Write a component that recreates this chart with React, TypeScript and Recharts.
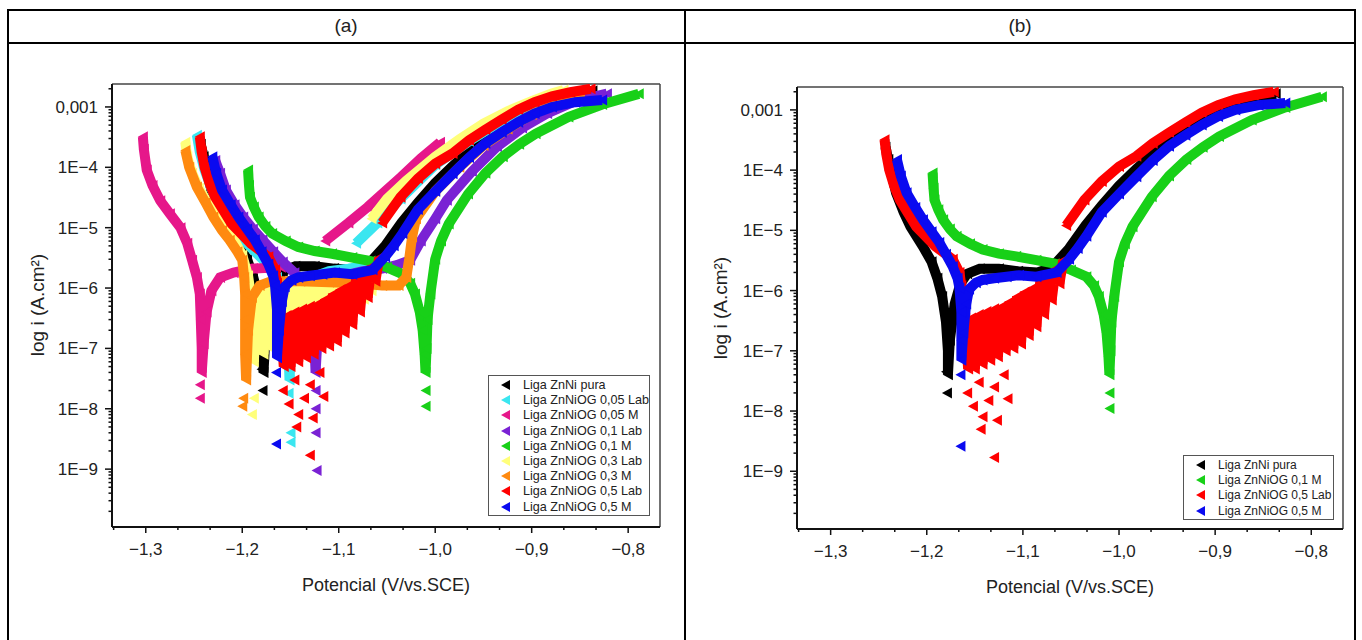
import React from "react";
import { ScatterChart, Scatter, XAxis, YAxis, ReferenceLine } from "recharts";

type Pt = [number, number];

// potential (V vs SCE), current density (A/cm²)
const blackMain: Pt[] = [
  [-1.243, 2.4e-4], [-1.24, 1.5e-4], [-1.236, 8e-5], [-1.232, 4.2e-5], [-1.224, 2e-5],
  [-1.217, 1.15e-5], [-1.204, 5.4e-6], [-1.195, 3e-6], [-1.189, 1.6e-6], [-1.184, 8e-7],
  [-1.18, 3e-7], [-1.178, 1e-7], [-1.178, 4e-8], [-1.176, 1.5e-7], [-1.171, 6e-7],
  [-1.165, 1.3e-6], [-1.158, 1.9e-6], [-1.145, 2.3e-6], [-1.125, 2.3e-6], [-1.105, 2.1e-6],
  [-1.085, 2e-6], [-1.07, 2.4e-6], [-1.052, 5e-6], [-1.035, 1.2e-5], [-1.018, 2.6e-5],
  [-1.0, 5.5e-5], [-0.982, 1.05e-4], [-0.948, 3.2e-4], [-0.914, 7e-4], [-0.879, 1.25e-3],
  [-0.855, 1.6e-3], [-0.837, 1.85e-3],
];
const blackTail: Pt[] = [[-1.179, 2e-8], [-1.18, 4.5e-8]];

const cyanMain: Pt[] = [
  [-1.247, 3.4e-4], [-1.244, 1.8e-4], [-1.239, 9e-5], [-1.232, 4.5e-5], [-1.222, 2e-5],
  [-1.208, 9e-6], [-1.19, 4.5e-6], [-1.175, 2.6e-6], [-1.164, 1.5e-6], [-1.157, 7e-7],
  [-1.153, 2.5e-7], [-1.152, 8e-8], [-1.151, 3e-8], [-1.149, 1.5e-7], [-1.146, 4e-7],
  [-1.14, 9e-7], [-1.128, 1.5e-6], [-1.11, 1.9e-6], [-1.09, 2.1e-6], [-1.075, 2.3e-6],
];
const cyanAnodic: Pt[] = [
  [-1.082, 5.5e-6], [-1.06, 1.2e-5], [-1.036, 3e-5], [-1.0, 1.1e-4], [-0.965, 2.7e-4],
  [-0.931, 5.8e-4], [-0.897, 1.1e-3], [-0.86, 1.65e-3], [-0.845, 1.8e-3],
];
const cyanTail: Pt[] = [[-1.152, 1.8e-8], [-1.15, 4e-9], [-1.15, 2.8e-9]];

const magentaMain: Pt[] = [
  [-1.303, 3.2e-4], [-1.302, 2e-4], [-1.299, 9e-5], [-1.293, 5e-5], [-1.285, 2.8e-5],
  [-1.275, 1.7e-5], [-1.264, 1e-5], [-1.257, 5.5e-6], [-1.252, 2.9e-6], [-1.247, 1.5e-6],
  [-1.244, 8e-7], [-1.243, 3e-7], [-1.242, 1e-7], [-1.242, 4e-8], [-1.24, 1.2e-7],
  [-1.237, 4e-7], [-1.232, 9e-7], [-1.223, 1.5e-6], [-1.209, 1.8e-6], [-1.189, 2.1e-6],
  [-1.16, 2.2e-6],
];
const magentaAnodic: Pt[] = [
  [-1.114, 6e-6], [-1.09, 1.2e-5], [-1.07, 2.2e-5], [-1.057, 3.4e-5], [-1.035, 7e-5],
  [-1.015, 1.4e-4], [-0.995, 2.6e-4],
];
const magentaTail: Pt[] = [[-1.244, 2.5e-8], [-1.244, 1.5e-8]];

const violetMain: Pt[] = [
  [-1.228, 1.3e-4], [-1.223, 8e-5], [-1.217, 4.2e-5], [-1.208, 2.4e-5], [-1.199, 1.5e-5],
  [-1.189, 9.5e-6], [-1.179, 6.3e-6], [-1.168, 4e-6], [-1.158, 2.7e-6], [-1.146, 1.8e-6],
  [-1.136, 9e-7], [-1.129, 3.5e-7], [-1.125, 1e-7], [-1.124, 4e-8], [-1.122, 1.5e-7],
  [-1.118, 5e-7], [-1.11, 1.1e-6], [-1.095, 1.6e-6], [-1.075, 1.9e-6], [-1.055, 2.1e-6],
  [-1.04, 2.4e-6], [-1.026, 2.9e-6], [-1.015, 6e-6], [-1.0, 1.4e-5], [-0.988, 2.85e-5],
  [-0.962, 8.5e-5], [-0.936, 2.2e-4], [-0.91, 4.5e-4], [-0.884, 7.8e-4], [-0.855, 1.25e-3],
  [-0.822, 1.66e-3],
];
const violetTail: Pt[] = [[-1.124, 2e-8], [-1.124, 1e-8], [-1.124, 4e-9], [-1.123, 9.5e-10]];

const greenMain: Pt[] = [
  [-1.194, 9e-5], [-1.193, 5e-5], [-1.192, 3.2e-5], [-1.188, 2.2e-5], [-1.183, 1.5e-5],
  [-1.176, 1.05e-5], [-1.169, 8e-6], [-1.155, 6e-6], [-1.142, 4.8e-6], [-1.125, 4.1e-6],
  [-1.107, 3.7e-6], [-1.086, 3.2e-6], [-1.067, 2.8e-6], [-1.05, 2.2e-6], [-1.034, 1.7e-6],
  [-1.026, 1.2e-6], [-1.021, 8e-7], [-1.016, 4e-7], [-1.013, 2e-7], [-1.011, 8e-8],
  [-1.01, 4e-8], [-1.009, 1e-7], [-1.008, 3e-7], [-1.005, 8e-7], [-1.0, 3e-6],
  [-0.994, 6e-6], [-0.986, 1.15e-5], [-0.966, 3.6e-5], [-0.948, 8e-5], [-0.93, 1.5e-4],
  [-0.913, 2.4e-4], [-0.896, 3.6e-4], [-0.862, 6.8e-4], [-0.827, 1.1e-3], [-0.789, 1.65e-3],
];
const greenTail: Pt[] = [[-1.01, 2e-8], [-1.01, 1.1e-8]];

const yellowMain: Pt[] = [
  [-1.259, 2.6e-4], [-1.257, 1.5e-4], [-1.252, 8e-5], [-1.245, 4.5e-5], [-1.236, 2.6e-5],
  [-1.224, 1.4e-5], [-1.21, 7e-6], [-1.2, 3.5e-6], [-1.194, 1.6e-6], [-1.19, 6e-7],
  [-1.189, 2e-7], [-1.188, 6e-8], [-1.186, 2.5e-7], [-1.182, 9e-7], [-1.178, 8e-8],
  [-1.174, 9e-7], [-1.17, 1e-7], [-1.166, 1e-6], [-1.162, 1.2e-7], [-1.158, 1e-6],
  [-1.154, 1.4e-7], [-1.15, 1e-6], [-1.146, 1.6e-7], [-1.142, 1.05e-6], [-1.138, 1.8e-7],
  [-1.134, 1.05e-6], [-1.13, 2e-7], [-1.126, 1.1e-6], [-1.122, 2.3e-7], [-1.118, 1.1e-6],
  [-1.114, 2.6e-7], [-1.11, 1.1e-6], [-1.106, 3e-7], [-1.102, 1.15e-6], [-1.098, 3.4e-7],
  [-1.094, 1.2e-6], [-1.09, 4e-7], [-1.086, 1.3e-6], [-1.082, 5e-7], [-1.078, 1.4e-6],
  [-1.074, 6.5e-7], [-1.07, 1.6e-6], [-1.066, 9e-7], [-1.062, 1.9e-6],
];
const yellowAnodic: Pt[] = [
  [-1.066, 1.4e-5], [-1.05, 3e-5], [-1.03, 6e-5], [-1.0, 1.5e-4], [-0.975, 2.9e-4],
  [-0.95, 5.3e-4], [-0.925, 8.5e-4], [-0.9, 1.25e-3], [-0.88, 1.65e-3], [-0.867, 1.9e-3],
];
const yellowTail: Pt[] = [[-1.188, 1.5e-8], [-1.19, 8e-9]];

const orangeMain: Pt[] = [
  [-1.259, 1.9e-4], [-1.255, 1e-4], [-1.247, 4.7e-5], [-1.238, 2.6e-5], [-1.23, 1.5e-5],
  [-1.221, 9e-6], [-1.213, 6.2e-6], [-1.205, 4e-6], [-1.2, 2.9e-6], [-1.198, 1.5e-6],
  [-1.197, 8e-7], [-1.197, 3e-7], [-1.197, 8e-8], [-1.196, 3e-8], [-1.194, 2e-7],
  [-1.19, 7e-7], [-1.182, 1.1e-6], [-1.17, 1.3e-6], [-1.14, 1.3e-6], [-1.11, 1.25e-6],
  [-1.08, 1.2e-6], [-1.055, 1.1e-6], [-1.038, 1.1e-6], [-1.03, 1.5e-6], [-1.027, 3e-6],
  [-1.024, 7e-6], [-1.02, 1.4e-5], [-1.0, 4e-5], [-0.975, 1e-4], [-0.95, 2.3e-4],
  [-0.925, 4.3e-4], [-0.9, 7.5e-4], [-0.875, 1.1e-3], [-0.85, 1.5e-3],
];
const orangeTail: Pt[] = [[-1.199, 1.5e-8], [-1.2, 1.1e-8]];

const redMain: Pt[] = [
  [-1.244, 3.2e-4], [-1.242, 1.8e-4], [-1.239, 1e-4], [-1.234, 5.5e-5], [-1.228, 3.2e-5],
  [-1.211, 1.15e-5], [-1.191, 5.4e-6], [-1.173, 3.3e-6], [-1.166, 2e-6], [-1.164, 1.2e-6],
  [-1.163, 6e-7], [-1.162, 1.5e-7], [-1.16, 3.5e-7], [-1.157, 5e-8], [-1.154, 3.5e-7],
  [-1.15, 5e-8], [-1.146, 4e-7], [-1.142, 6e-8], [-1.138, 4.5e-7], [-1.134, 7e-8],
  [-1.13, 5e-7], [-1.126, 8e-8], [-1.122, 5.5e-7], [-1.118, 1e-7], [-1.114, 6.5e-7],
  [-1.11, 1.1e-7], [-1.106, 8e-7], [-1.102, 1.3e-7], [-1.098, 9.5e-7], [-1.094, 1.8e-7],
  [-1.09, 1.1e-6], [-1.086, 2.5e-7], [-1.082, 1.4e-6], [-1.078, 4e-7], [-1.074, 1.8e-6],
  [-1.07, 7e-7], [-1.066, 2.3e-6], [-1.062, 1.3e-6], [-1.058, 3.2e-6],
];
const redAnodic: Pt[] = [
  [-1.055, 1.2e-5], [-1.036, 3.2e-5], [-1.018, 6.5e-5], [-1.0, 1.15e-4], [-0.982, 1.7e-4],
  [-0.965, 2.8e-4], [-0.948, 4.2e-4], [-0.931, 6.2e-4], [-0.914, 9e-4], [-0.897, 1.2e-3],
  [-0.879, 1.5e-3], [-0.86, 1.75e-3], [-0.839, 2e-3],
];
const redTail: Pt[] = [
  [-1.158, 2e-8], [-1.152, 1.2e-8], [-1.146, 3e-8], [-1.142, 8e-9], [-1.136, 1.5e-8],
  [-1.13, 2.5e-8], [-1.127, 7e-9], [-1.12, 4e-8], [-1.116, 1.6e-8], [-1.144, 5e-9],
  [-1.13, 1.7e-9],
];

const blueMain: Pt[] = [
  [-1.231, 1.5e-4], [-1.227, 8e-5], [-1.221, 4.2e-5], [-1.212, 2.4e-5], [-1.204, 1.5e-5],
  [-1.195, 9.5e-6], [-1.187, 6.3e-6], [-1.18, 4e-6], [-1.173, 2.5e-6], [-1.168, 1.6e-6],
  [-1.166, 1.1e-6], [-1.164, 4.4e-7], [-1.164, 1.5e-7], [-1.164, 7e-8], [-1.162, 2e-7],
  [-1.159, 6e-7], [-1.156, 1.05e-6], [-1.149, 1.35e-6], [-1.142, 1.5e-6], [-1.13, 1.6e-6],
  [-1.117, 1.7e-6], [-1.104, 1.8e-6], [-1.086, 1.7e-6], [-1.065, 2e-6], [-1.052, 3.3e-6],
  [-1.043, 5e-6], [-1.034, 8e-6], [-1.018, 2e-5], [-1.0, 4e-5], [-0.982, 7.8e-5],
  [-0.965, 1.45e-4], [-0.948, 2.5e-4], [-0.931, 3.8e-4], [-0.914, 5.6e-4], [-0.897, 7.8e-4],
  [-0.879, 1e-3], [-0.855, 1.2e-3], [-0.827, 1.3e-3],
];
const blueTail: Pt[] = [[-1.165, 4e-8], [-1.165, 2.6e-9]];

const X_DOMAIN: [number, number] = [-1.335, -0.767];
const X_MAJOR = [-1.3, -1.2, -1.1, -1.0, -0.9, -0.8];
const X_LABELS = ["−1,3", "−1,2", "−1,1", "−1,0", "−0,9", "−0,8"];
const X_MINOR = [
  -1.3333, -1.2667, -1.2333, -1.1667, -1.1333, -1.0667, -1.0333,
  -0.9667, -0.9333, -0.8667, -0.8333,
];

const Y_DOMAIN: [number, number] = [1.1e-10, 2.4e-3];
const Y_MAJOR = [1e-9, 1e-8, 1e-7, 1e-6, 1e-5, 1e-4, 1e-3];
const Y_LABELS = ["1E−9", "1E−8", "1E−7", "1E−6", "1E−5", "1E−4", "0,001"];
const Y_MINOR: number[] = [];
[1e-10, 1e-9, 1e-8, 1e-7, 1e-6, 1e-5, 1e-4, 1e-3].forEach((d) => {
  [2, 3, 4, 5, 6, 7, 8, 9].forEach((m) => {
    const v = m * d;
    if (v > Y_DOMAIN[0] && v < Y_DOMAIN[1]) Y_MINOR.push(v);
  });
});

interface SeriesDef {
  name: string;
  color: string;
  parts: Pt[][];
  tail: Pt[];
}

const ZNNI: SeriesDef = { name: "Liga ZnNi pura", color: "#000000", parts: [blackMain], tail: blackTail };
const OG005LAB: SeriesDef = { name: "Liga ZnNiOG 0,05 Lab", color: "#3ae6f0", parts: [cyanMain, cyanAnodic], tail: cyanTail };
const OG005M: SeriesDef = { name: "Liga ZnNiOG 0,05 M", color: "#e6178a", parts: [magentaMain, magentaAnodic], tail: magentaTail };
const OG01LAB: SeriesDef = { name: "Liga ZnNiOG 0,1 Lab", color: "#7a22d4", parts: [violetMain], tail: violetTail };
const OG01M: SeriesDef = { name: "Liga ZnNiOG 0,1 M", color: "#18d018", parts: [greenMain], tail: greenTail };
const OG03LAB: SeriesDef = { name: "Liga ZnNiOG 0,3 Lab", color: "#ffff7a", parts: [yellowMain, yellowAnodic], tail: yellowTail };
const OG03M: SeriesDef = { name: "Liga ZnNiOG 0,3 M", color: "#ff8a10", parts: [orangeMain], tail: orangeTail };
const OG05LAB: SeriesDef = { name: "Liga ZnNiOG 0,5 Lab", color: "#ff0000", parts: [redMain, redAnodic], tail: redTail };
const OG05M: SeriesDef = { name: "Liga ZnNiOG 0,5 M", color: "#0a0af0", parts: [blueMain], tail: blueTail };

const SERIES_A = [ZNNI, OG005LAB, OG005M, OG01LAB, OG01M, OG03LAB, OG03M, OG05LAB, OG05M];
const SERIES_B = [ZNNI, OG01M, OG05LAB, OG05M];

const FONT = "'Liberation Sans', Arial, sans-serif";
const INK = "#222";

const toPts = (arr: Pt[]) => arr.map(([E, i]) => ({ E, i }));

const LeftTriangle = (props: any) => {
  const { cx, cy, fill } = props;
  if (cx == null || cy == null) return null;
  return <polygon points={`${cx - 5},${cy} ${cx + 5},${cy - 5.5} ${cx + 5},${cy + 5.5}`} fill={fill} />;
};

const XTick = (props: any) => {
  const { x, y, payload } = props;
  const idx = X_MAJOR.findIndex((v) => Math.abs(v - payload.value) < 1e-6);
  const major = idx >= 0;
  return (
    <g>
      <line x1={x} y1={y} x2={x} y2={y + (major ? 6 : 3)} stroke="#111" strokeWidth={1.5} />
      {major && (
        <text x={x} y={y + 28} textAnchor="middle" fontFamily={FONT} fontSize={17} fill={INK}>
          {X_LABELS[idx]}
        </text>
      )}
    </g>
  );
};

const YTick = (props: any) => {
  const { x, y, payload } = props;
  const idx = Y_MAJOR.findIndex((v) => Math.abs(Math.log10(v) - Math.log10(payload.value)) < 1e-6);
  const major = idx >= 0;
  return (
    <g>
      <line x1={x - (major ? 7 : 3.5)} y1={y} x2={x} y2={y} stroke="#111" strokeWidth={1.5} />
      {major && (
        <text x={x - 14} y={y + 6} textAnchor="end" fontFamily={FONT} fontSize={17} fill={INK}>
          {Y_LABELS[idx]}
        </text>
      )}
    </g>
  );
};

function Legend({
  series,
  style,
  fontSize,
}: {
  series: SeriesDef[];
  style: React.CSSProperties;
  fontSize: string;
}) {
  return (
    <div
      style={{
        position: "absolute",
        border: "1px solid #555",
        background: "#fff",
        boxSizing: "border-box",
        paddingTop: 1.5,
        fontFamily: FONT,
        fontSize,
        color: INK,
        ...style,
      }}
    >
      {series.map((s) => (
        <div key={s.name} style={{ display: "flex", alignItems: "center", height: "15.2px", whiteSpace: "nowrap" }}>
          <svg width={30} height={12} style={{ flex: "none" }}>
            <polygon points="12,6 21,1 21,11" fill={s.color} />
          </svg>
          <span style={{ marginLeft: 4 }}>{s.name}</span>
        </div>
      ))}
    </div>
  );
}

function PolarizationChart({
  series,
  width,
  top,
  bottom,
}: {
  series: SeriesDef[];
  width: number;
  top: number;
  bottom: number;
}) {
  return (
    <ScatterChart width={width} height={600} margin={{ top, right: 20, bottom, left: 52 }}>
      <XAxis
        type="number"
        dataKey="E"
        domain={X_DOMAIN}
        allowDataOverflow
        ticks={[...X_MAJOR, ...X_MINOR]}
        interval={0}
        height={30}
        tickSize={0}
        tickMargin={0}
        tickLine={false}
        axisLine={{ stroke: "#111", strokeWidth: 2 }}
        tick={(p: any) => <XTick {...p} />}
      />
      <YAxis
        type="number"
        dataKey="i"
        scale="log"
        domain={Y_DOMAIN}
        allowDataOverflow
        ticks={[...Y_MAJOR, ...Y_MINOR]}
        interval={0}
        width={60}
        tickSize={0}
        tickMargin={0}
        tickLine={false}
        axisLine={{ stroke: "#111", strokeWidth: 2 }}
        tick={(p: any) => <YTick {...p} />}
      />
      <ReferenceLine y={Y_DOMAIN[1]} stroke="#444" strokeWidth={1.5} />
      <ReferenceLine x={X_DOMAIN[1]} stroke="#444" strokeWidth={1.5} />
      {series.map((s) =>
        s.parts.map((part, k) => (
          <Scatter
            key={`${s.name}-${k}`}
            data={toPts(part)}
            fill={s.color}
            line={{ stroke: s.color, strokeWidth: 10 }}
            shape={LeftTriangle}
            isAnimationActive={false}
          />
        ))
      )}
      {series.map((s) => (
        <Scatter
          key={`${s.name}-tail`}
          data={toPts(s.tail)}
          fill={s.color}
          shape={LeftTriangle}
          isAnimationActive={false}
        />
      ))}
    </ScatterChart>
  );
}

const lineStyle = (l: number, t: number, w: number, h: number): React.CSSProperties => ({
  position: "absolute",
  left: l,
  top: t,
  width: w,
  height: h,
  background: "#000",
});

const yTitle = (cx: number, cy: number): React.CSSProperties => ({
  position: "absolute",
  left: cx - 100,
  top: cy - 11,
  width: 200,
  textAlign: "center",
  transform: "rotate(-90deg)",
  fontFamily: FONT,
  fontSize: "19px",
  color: INK,
});

const xTitle = (cx: number, cy: number): React.CSSProperties => ({
  position: "absolute",
  left: cx - 150,
  top: cy - 11,
  width: 300,
  textAlign: "center",
  fontFamily: FONT,
  fontSize: "18px",
  color: INK,
});

export default function App() {
  return (
    <div style={{ position: "absolute", left: 0, top: 0, width: 1362, height: 640, background: "#fff", overflow: "hidden" }}>
      <div style={lineStyle(7, 9, 1349, 2)} />
      <div style={lineStyle(7, 42, 1349, 2)} />
      <div style={lineStyle(7, 9, 2, 640)} />
      <div style={lineStyle(684, 9, 2, 640)} />
      <div style={lineStyle(1354, 9, 2, 640)} />
      <div style={{ ...xTitle(346, 26), fontSize: "19px" }}>(a)</div>
      <div style={{ ...xTitle(1020, 26), fontSize: "19px" }}>(b)</div>

      <div style={{ position: "absolute", left: 0, top: 0 }}>
        <PolarizationChart series={SERIES_A} width={680} top={84} bottom={43} />
      </div>
      <div style={yTitle(38, 305)}>log i (A.cm²)</div>
      <div style={xTitle(386, 586)}>Potencial (V/vs.SCE)</div>
      <Legend series={SERIES_A} fontSize="12.6px" style={{ left: 488, top: 375, width: 162, height: 141 }} />

      <div style={{ position: "absolute", left: 685, top: 0 }}>
        <PolarizationChart series={SERIES_B} width={678} top={87} bottom={41} />
      </div>
      <div style={yTitle(721, 308)}>log i (A.cm²)</div>
      <div style={xTitle(1070, 588)}>Potencial (V/vs.SCE)</div>
      <Legend series={SERIES_B} fontSize="12px" style={{ left: 1183, top: 455, width: 151, height: 65 }} />
    </div>
  );
}
